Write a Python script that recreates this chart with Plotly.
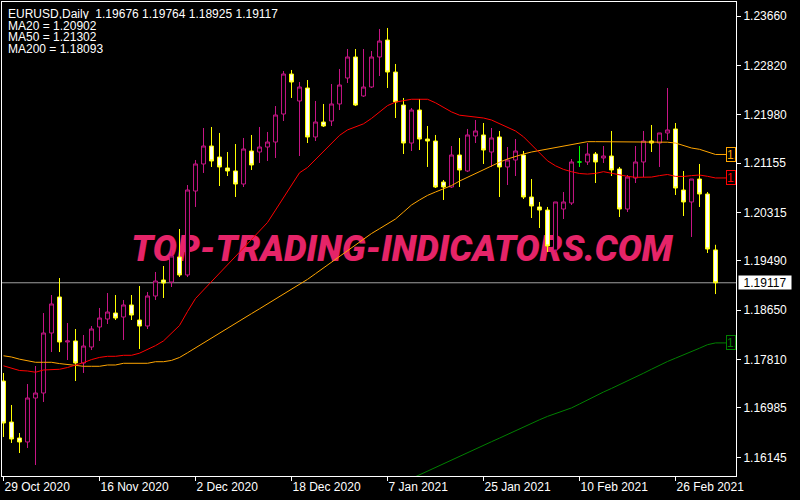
import plotly.graph_objects as go

# ---------------- data ----------------
symbol = "EURUSD,Daily"
tick_bars = [0, 12, 24, 36, 48, 60, 72, 84]
tick_dates = ["29 Oct 2020", "16 Nov 2020", "2 Dec 2020", "18 Dec 2020",
              "7 Jan 2021", "25 Jan 2021", "10 Feb 2021", "26 Feb 2021"]
price_ticks = [1.23660, 1.22820, 1.21980, 1.21155, 1.20315,
               1.19490, 1.18650, 1.17810, 1.16985, 1.16145]

open_ = [1.17444, 1.16746, 1.16474, 1.16406, 1.17155, 1.17240, 1.18262, 1.18875, 1.18109, 1.18126,
         1.17751, 1.18023, 1.18364, 1.18500, 1.18602, 1.18534, 1.18739, 1.18483, 1.18381, 1.18892,
         1.19164, 1.19130, 1.19556, 1.19250, 1.20680, 1.21140, 1.21446, 1.21259, 1.21072, 1.21021,
         1.20799, 1.21361, 1.21344, 1.21429, 1.21514, 1.21991, 1.22672, 1.22213, 1.22434, 1.21600,
         1.21855, 1.21872, 1.22162, 1.22604, 1.22962, 1.22298, 1.22451, 1.22962, 1.23251, 1.22706,
         1.22144, 1.21497, 1.22059, 1.21565, 1.21531, 1.20833, 1.20748, 1.21293, 1.21021, 1.21617,
         1.21634, 1.21344, 1.21600, 1.21089, 1.21208, 1.21293, 1.20578, 1.20408, 1.20356, 1.19675,
         1.20373, 1.20476, 1.21174, 1.21174, 1.21310, 1.21242, 1.21276, 1.21055, 1.20373, 1.20901,
         1.21174, 1.21531, 1.21497, 1.21668, 1.21736, 1.20697, 1.20493, 1.20884, 1.20629, 1.19676]
high = [1.17581, 1.17036, 1.16559, 1.17393, 1.17700, 1.18602, 1.18909, 1.19198, 1.18432, 1.18330,
        1.18228, 1.18381, 1.18688, 1.18943, 1.18909, 1.18824, 1.18909, 1.19062, 1.18960, 1.19301,
        1.19403, 1.19675, 1.20033, 1.20782, 1.21208, 1.21753, 1.21770, 1.21668, 1.21344, 1.21480,
        1.21583, 1.21634, 1.21770, 1.21685, 1.22127, 1.22723, 1.22741, 1.22536, 1.22570, 1.22213,
        1.22162, 1.22502, 1.22758, 1.23098, 1.23098, 1.23098, 1.23064, 1.23439, 1.23456, 1.22843,
        1.22264, 1.22093, 1.22247, 1.21787, 1.21634, 1.20867, 1.21446, 1.21583, 1.21736, 1.21889,
        1.21838, 1.21753, 1.21702, 1.21429, 1.21565, 1.21361, 1.20884, 1.20493, 1.20408, 1.20493,
        1.20663, 1.21225, 1.21446, 1.21497, 1.21344, 1.21446, 1.21702, 1.21089, 1.20952, 1.21446,
        1.21702, 1.21804, 1.21668, 1.22434, 1.21838, 1.21021, 1.20884, 1.21140, 1.20663, 1.19764]
low = [1.16491, 1.16389, 1.16218, 1.16304, 1.16014, 1.17087, 1.17938, 1.17938, 1.17802, 1.17444,
       1.17581, 1.17972, 1.18126, 1.18415, 1.18483, 1.18143, 1.18483, 1.17989, 1.18330, 1.18824,
       1.18858, 1.19045, 1.19215, 1.19215, 1.20408, 1.20987, 1.21089, 1.20765, 1.20935, 1.20578,
       1.20748, 1.21038, 1.21157, 1.21191, 1.21242, 1.21872, 1.22264, 1.21276, 1.21497, 1.21531,
       1.21770, 1.21787, 1.22059, 1.22519, 1.22127, 1.22281, 1.22434, 1.22638, 1.22434, 1.21923,
       1.21310, 1.21361, 1.21378, 1.21089, 1.20731, 1.20527, 1.20731, 1.20748, 1.21004, 1.21497,
       1.21140, 1.21089, 1.20578, 1.20782, 1.20935, 1.20544, 1.20220, 1.20050, 1.19641, 1.19624,
       1.20203, 1.20442, 1.21089, 1.21123, 1.20816, 1.21157, 1.20935, 1.20237, 1.20322, 1.20816,
       1.20918, 1.21344, 1.21089, 1.21548, 1.20612, 1.20254, 1.19897, 1.20408, 1.19624, 1.18925]
close = [1.16729, 1.16457, 1.16406, 1.17155, 1.17240, 1.18262, 1.18756, 1.18109, 1.18126, 1.17751,
         1.18040, 1.18330, 1.18517, 1.18619, 1.18517, 1.18739, 1.18568, 1.18381, 1.18892, 1.19147,
         1.19113, 1.19573, 1.19250, 1.20697, 1.21140, 1.21446, 1.21191, 1.21089, 1.21021, 1.20799,
         1.21395, 1.21123, 1.21429, 1.21514, 1.21974, 1.22672, 1.22536, 1.22451, 1.21600, 1.21855,
         1.21787, 1.22162, 1.22485, 1.22962, 1.22144, 1.22451, 1.22962, 1.23234, 1.22706, 1.22196,
         1.21497, 1.22059, 1.21565, 1.21531, 1.20748, 1.20748, 1.21293, 1.21038, 1.21634, 1.21702,
         1.21378, 1.21583, 1.21089, 1.21208, 1.21361, 1.20578, 1.20425, 1.20356, 1.19743, 1.20493,
         1.20493, 1.21174, 1.21174, 1.21310, 1.21174, 1.21276, 1.21038, 1.20373, 1.20918, 1.21174,
         1.21531, 1.21497, 1.21668, 1.21719, 1.20731, 1.20493, 1.20884, 1.20629, 1.19692, 1.19117]

ma20 = [1.17703, 1.17669, 1.17623, 1.17615, 1.17594, 1.17632, 1.17644, 1.17644, 1.17674, 1.17712,
        1.17758, 1.17809, 1.17846, 1.17865, 1.17865, 1.17882, 1.17882, 1.17918, 1.17979, 1.18047,
        1.18127, 1.18253, 1.18390, 1.18628, 1.18849, 1.18994, 1.19134, 1.19272, 1.19420, 1.19565,
        1.19709, 1.19854, 1.19999, 1.20144, 1.20355, 1.20574, 1.20794, 1.20990, 1.21080, 1.21216,
        1.21353, 1.21489, 1.21627, 1.21720, 1.21773, 1.21824, 1.21916, 1.22027, 1.22134, 1.22194,
        1.22213, 1.22242, 1.22242, 1.22242, 1.22182, 1.22109, 1.22027, 1.21971, 1.21957, 1.21947,
        1.21923, 1.21889, 1.21829, 1.21770, 1.21702, 1.21603, 1.21468, 1.21329, 1.21194, 1.21109,
        1.21048, 1.21009, 1.20978, 1.20968, 1.20980, 1.21009, 1.20981, 1.20954, 1.20929, 1.20913,
        1.20913, 1.20917, 1.20942, 1.20961, 1.20929, 1.20927, 1.20942, 1.20952, 1.20930, 1.20902]
ma50 = [1.17874, 1.17853, 1.17816, 1.17792, 1.17763, 1.17763, 1.17763, 1.17741, 1.17727, 1.17705,
        1.17695, 1.17695, 1.17695, 1.17717, 1.17717, 1.17746, 1.17746, 1.17746, 1.17746, 1.17773,
        1.17773, 1.17795, 1.17845, 1.17925, 1.18010, 1.18093, 1.18177, 1.18260, 1.18344, 1.18425,
        1.18509, 1.18592, 1.18674, 1.18757, 1.18841, 1.18924, 1.19006, 1.19089, 1.19175, 1.19272,
        1.19370, 1.19469, 1.19566, 1.19665, 1.19762, 1.19861, 1.19956, 1.20038, 1.20118, 1.20203,
        1.20322, 1.20442, 1.20527, 1.20605, 1.20663, 1.20711, 1.20772, 1.20849, 1.20915, 1.20975,
        1.21039, 1.21106, 1.21170, 1.21225, 1.21274, 1.21310, 1.21344, 1.21370, 1.21397, 1.21422,
        1.21446, 1.21473, 1.21504, 1.21520, 1.21520, 1.21520, 1.21520, 1.21520, 1.21520, 1.21520,
        1.21520, 1.21518, 1.21514, 1.21511, 1.21497, 1.21451, 1.21412, 1.21390, 1.21349, 1.21302]
ma200_first_bar = 51
ma200 = [1.15784, 1.15847, 1.15910, 1.15975, 1.16045, 1.16106, 1.16167, 1.16229, 1.16292, 1.16350,
         1.16411, 1.16472, 1.16537, 1.16600, 1.16661, 1.16722, 1.16784, 1.16842, 1.16889, 1.16937,
         1.16986, 1.17053, 1.17124, 1.17196, 1.17257, 1.17318, 1.17380, 1.17443, 1.17507, 1.17577,
         1.17645, 1.17714, 1.17777, 1.17833, 1.17887, 1.17945, 1.18003, 1.18063, 1.18093]
watermark = "TOP-TRADING-INDICATORS.COM"

# ---------------- styling ----------------
FONT = "Liberation Sans, Arial, sans-serif"
BULL = "#C71585"
BEAR_LINE = "#FFFF00"
DOJI = "#00FF00"
C20 = "#FF0000"
C50 = "#FFA500"
C200 = "#008000"
W, H = 800, 500
ML, MR, MT, MB = 2, 64, 2, 24
PW, PH = W - ML - MR, H - MT - MB
XR = [-0.1875, 91.5625]
YR = [1.158267, 1.238984]


def px2x(px):
    return (px - ML) / PW


def px2y(py):
    return (H - MB - py) / PH


bars = list(range(len(close)))
main = [i for i in bars if open_[i] != close[i]]
doji = [i for i in bars if open_[i] == close[i]]

fig = go.Figure()

# watermark on the base subplot (behind the price data)
fig.add_trace(go.Scatter(
    x=[49.8], y=[1.19641], mode="text", text=[watermark],
    textfont=dict(family="Roboto, Open Sans, sans-serif", size=36, color="#E52468",
                  weight=900, style="italic"),
    hoverinfo="skip", showlegend=False))

fig.add_trace(go.Candlestick(
    x=main, open=[open_[i] for i in main], high=[high[i] for i in main],
    low=[low[i] for i in main], close=[close[i] for i in main],
    xaxis="x2", yaxis="y2", whiskerwidth=0,
    increasing=dict(line=dict(color=BULL, width=1), fillcolor="#000000"),
    decreasing=dict(line=dict(color=BEAR_LINE, width=1), fillcolor="#FFFFFF"),
    hoverinfo="skip", showlegend=False))
fig.add_trace(go.Candlestick(
    x=doji, open=[open_[i] for i in doji], high=[high[i] for i in doji],
    low=[low[i] for i in doji], close=[close[i] for i in doji],
    xaxis="x2", yaxis="y2", whiskerwidth=0,
    increasing=dict(line=dict(color=DOJI, width=1), fillcolor="#000000"),
    decreasing=dict(line=dict(color=DOJI, width=1), fillcolor="#000000"),
    hoverinfo="skip", showlegend=False))

fig.add_trace(go.Scatter(x=bars, y=ma50, mode="lines", line=dict(color=C50, width=1),
                         xaxis="x2", yaxis="y2", hoverinfo="skip", showlegend=False))
fig.add_trace(go.Scatter(x=bars, y=ma20, mode="lines", line=dict(color=C20, width=1),
                         xaxis="x2", yaxis="y2", hoverinfo="skip", showlegend=False))
fig.add_trace(go.Scatter(x=list(range(ma200_first_bar, ma200_first_bar + len(ma200))), y=ma200,
                         mode="lines", line=dict(color=C200, width=1),
                         xaxis="x2", yaxis="y2", hoverinfo="skip", showlegend=False))

axis_common = dict(showgrid=False, zeroline=False, fixedrange=True)
fig.update_layout(
    width=W, height=H, margin=dict(l=ML, r=MR, t=MT, b=MB),
    paper_bgcolor="#000000", plot_bgcolor="#000000",
    showlegend=False, hovermode=False,
    xaxis=dict(range=XR, tickvals=tick_bars, ticktext=tick_dates, ticks="outside", ticklen=4,
               tickcolor="#FFFFFF", tickfont=dict(family=FONT, size=12, color="#FFFFFF"),
               ticklabelposition="outside right",
               showline=True, linecolor="#FFFFFF", linewidth=1, mirror=True,
               rangeslider=dict(visible=False), **axis_common),
    yaxis=dict(range=YR, side="right", tickvals=price_ticks,
               ticktext=[f"{v:.5f}" for v in price_ticks], ticks="outside", ticklen=4,
               tickcolor="#FFFFFF", tickfont=dict(family=FONT, size=12, color="#FFFFFF"),
               showline=True, linecolor="#FFFFFF", linewidth=1, mirror=True, **axis_common),
    xaxis2=dict(range=XR, overlaying="x", visible=False, rangeslider=dict(visible=False),
                **axis_common),
    yaxis2=dict(range=YR, overlaying="y", side="right", visible=False, **axis_common),
)

# current price line
fig.add_shape(type="line", xref="paper", x0=0, x1=1, yref="y2", y0=close[-1], y1=close[-1],
              line=dict(color="#A0A0A0", width=1), layer="below")

# MA end connectors and value boxes (value text is cut by the chart frame, as in MT4)
last = bars[-1]
for val, col in [(ma50[-1], C50), (ma20[-1], C20), (ma200[-1], C200)]:
    fig.add_shape(type="line", xref="x2", yref="y2", x0=last, x1=last + 1.31, y0=val, y1=val,
                  line=dict(color=col, width=1))
    fig.add_annotation(xref="paper", x=px2x(726), xanchor="left", yref="y2", y=val,
                       yanchor="middle", text=f"{val:.5f}"[:2], showarrow=False, width=8,
                       height=13, align="left", borderpad=0, borderwidth=1, bordercolor=col,
                       bgcolor="#000000", font=dict(family=FONT, size=12, color=col))

# last price label on the price scale
fig.add_annotation(xref="paper", x=1, xanchor="left", xshift=2, yref="y2", y=close[-1],
                   yanchor="middle", text=f"{close[-1]:.5f}", showarrow=False,
                   width=52, height=13, borderpad=0, bgcolor="#FFFFFF",
                   font=dict(family=FONT, size=12, color="#000000"))

# header text
header_lines = [
    f"{symbol}\u00a0\u00a0{open_[-1]:.5f} {high[-1]:.5f} {low[-1]:.5f} {close[-1]:.5f}",
    f"MA20 = {ma20[-1]:.5f}",
    f"MA50 = {ma50[-1]:.5f}",
    f"MA200 = {ma200[-1]:.5f}",
]
for k, line in enumerate(header_lines):
    fig.add_annotation(xref="paper", x=px2x(6), xanchor="left", yref="paper",
                       y=px2y(13.5 + 11.7 * k), yanchor="middle", text=line, showarrow=False,
                       height=11, valign="middle",
                       font=dict(family=FONT, size=12, color="#FFFFFF"))

fig.write_html("out.html", config={"displayModeBar": False},
               post_script="document.body.style.margin='0px';")
